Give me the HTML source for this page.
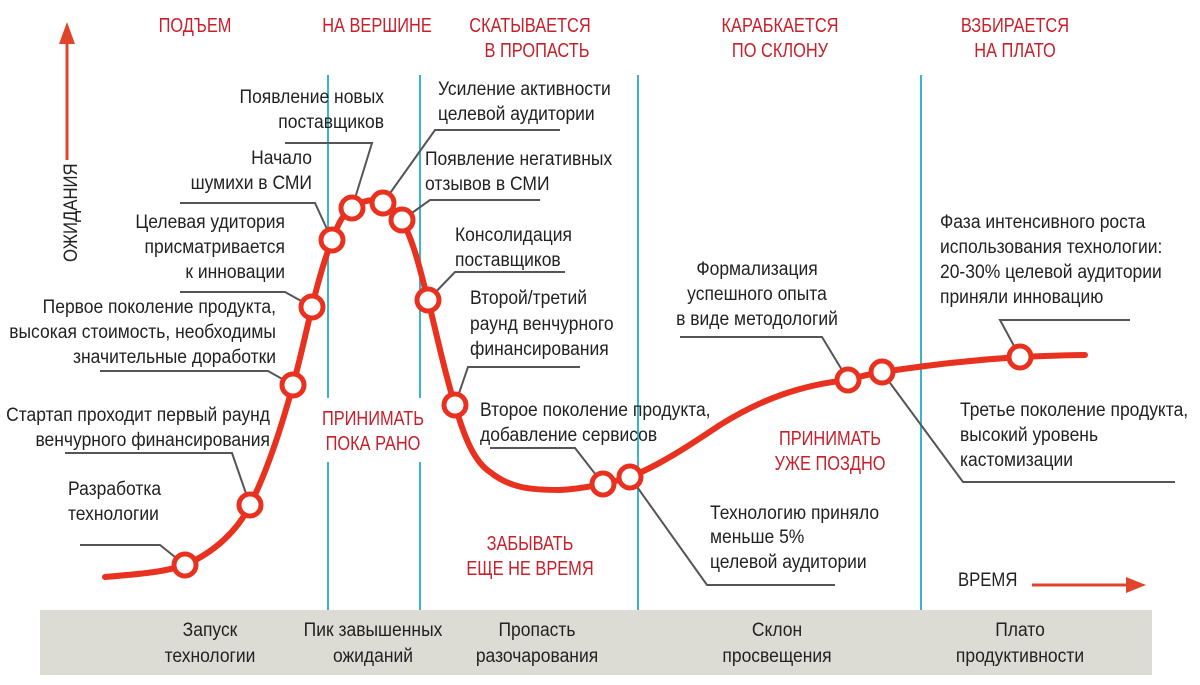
<!DOCTYPE html>
<html><head><meta charset="utf-8"><style>
html,body{margin:0;padding:0;background:#fff;}
svg{display:block;}
text{font-family:"Liberation Sans",sans-serif;font-size:19px;fill:#222;}
.r{fill:#c8202a;font-size:20px;}
.e{text-anchor:end;}
.m{text-anchor:middle;}
</style></head><body>
<svg width="1200" height="685" viewBox="0 0 1200 685" xmlns="http://www.w3.org/2000/svg">
<rect x="40" y="610" width="1112" height="65" fill="#dcdcd5"/>
<g stroke="#3ab6c8" stroke-width="2">
<line x1="328" y1="75" x2="328" y2="398"/><line x1="328" y1="462" x2="328" y2="610"/>
<line x1="420" y1="75" x2="420" y2="398"/><line x1="420" y1="462" x2="420" y2="610"/>
<line x1="638" y1="75" x2="638" y2="610"/>
<line x1="921" y1="75" x2="921" y2="610"/>
</g>
<line x1="67" y1="160" x2="67" y2="40" stroke="#e0452c" stroke-width="3"/>
<polygon points="59,44 67,22 75,44" fill="#e0452c"/>
<text transform="translate(77,262) rotate(-90) scale(.88,1)">ОЖИДАНИЯ</text>
<text transform="translate(958,586) scale(.88,1)">ВРЕМЯ</text>
<line x1="1032" y1="585" x2="1128" y2="585" stroke="#e0452c" stroke-width="3"/>
<polygon points="1126,577 1146,585 1126,593" fill="#e0452c"/>
<!-- headings -->
<text class="r m" transform="translate(195,32) scale(.82,1)">ПОДЪЕМ</text>
<text class="r m" transform="translate(377,32) scale(.82,1)">НА ВЕРШИНЕ</text>
<text class="r m" transform="translate(530,32) scale(.82,1)">СКАТЫВАЕТСЯ</text><text class="r m" transform="translate(537,57) scale(.82,1)">В ПРОПАСТЬ</text>
<text class="r m" transform="translate(780,32) scale(.82,1)">КАРАБКАЕТСЯ</text><text class="r m" transform="translate(780,57) scale(.82,1)">ПО СКЛОНУ</text>
<text class="r m" transform="translate(1015,32) scale(.82,1)">ВЗБИРАЕТСЯ</text><text class="r m" transform="translate(1015,57) scale(.82,1)">НА ПЛАТО</text>
<text class="r m" transform="translate(373,425) scale(.82,1)">ПРИНИМАТЬ</text><text class="r m" transform="translate(373,450) scale(.82,1)">ПОКА РАНО</text>
<text class="r m" transform="translate(530,550) scale(.82,1)">ЗАБЫВАТЬ</text><text class="r m" transform="translate(530,575) scale(.82,1)">ЕЩЕ НЕ ВРЕМЯ</text>
<text class="r m" transform="translate(830,445) scale(.82,1)">ПРИНИМАТЬ</text><text class="r m" transform="translate(830,470) scale(.82,1)">УЖЕ ПОЗДНО</text>
<!-- bottom -->
<text class="m" transform="translate(210,636) scale(.92,1)">Запуск</text><text class="m" transform="translate(210,662) scale(.92,1)">технологии</text>
<text class="m" transform="translate(373,636) scale(.92,1)">Пик завышенных</text><text class="m" transform="translate(373,662) scale(.92,1)">ожиданий</text>
<text class="m" transform="translate(537,636) scale(.92,1)">Пропасть</text><text class="m" transform="translate(537,662) scale(.92,1)">разочарования</text>
<text class="m" transform="translate(777,636) scale(.92,1)">Склон</text><text class="m" transform="translate(777,662) scale(.92,1)">просвещения</text>
<text class="m" transform="translate(1020,636) scale(.92,1)">Плато</text><text class="m" transform="translate(1020,662) scale(.92,1)">продуктивности</text>
<!-- leaders -->
<g stroke="#555" stroke-width="2" fill="none">
<polyline points="80,545 160,545 185,565"/>
<polyline points="65,453 232,453 250,505"/>
<polyline points="100,371 268,371 293,385"/>
<polyline points="180,292 285,292 312,307"/>
<polyline points="180,203 315,203 332,240"/>
<polyline points="285,143 372,143 352,208"/>
<polyline points="560,130 435,130 383,203"/>
<polyline points="540,200 430,200 402,220"/>
<polyline points="565,272 455,272 428,300"/>
<polyline points="580,367 468,367 455,405"/>
<polyline points="490,448 575,448 603,484"/>
<polyline points="630,477 707,585 835,585"/>
<polyline points="680,337 822,337 848,380"/>
<polyline points="1130,320 1000,320 1020,357"/>
<polyline points="882,372 963,482 1175,482"/>
</g>
<path d="M105,577 C140,574 165,572 185,565 C215,552 238,530 250,505 C268,470 282,425 293,385 C300,360 306,332 312,307 C318,282 325,258 332,240 C338,224 344,212 352,208 C362,200 375,198 383,203 C392,207 397,212 402,220 C415,245 420,270 428,300 C437,335 445,375 455,405 C465,440 475,462 490,472 C510,488 530,490 560,490 C580,489 592,486 603,484 C612,482 620,480 630,477 C660,465 690,445 720,425 C760,400 800,385 848,380 C858,377 870,374 882,372 C930,365 970,360 1020,357 C1045,356 1065,355 1085,355" fill="none" stroke="#e8321f" stroke-width="6" stroke-linecap="round"/>
<g fill="#fff" stroke="#e8321f" stroke-width="5">
<circle cx="185" cy="565" r="11"/><circle cx="250" cy="505" r="11"/><circle cx="293" cy="385" r="11"/>
<circle cx="312" cy="307" r="11"/><circle cx="332" cy="240" r="11"/><circle cx="352" cy="208" r="11"/>
<circle cx="383" cy="203" r="11"/><circle cx="402" cy="220" r="11"/><circle cx="428" cy="300" r="11"/>
<circle cx="455" cy="405" r="11"/><circle cx="603" cy="484" r="11"/><circle cx="630" cy="477" r="11"/>
<circle cx="848" cy="380" r="11"/><circle cx="882" cy="372" r="11"/><circle cx="1020" cy="357" r="11"/>
</g>
<!-- labels -->
<text transform="translate(68,495) scale(.92,1)">Разработка</text><text transform="translate(68,520) scale(.92,1)">технологии</text>
<text class="e" transform="translate(270,421) scale(.92,1)">Стартап проходит первый раунд</text><text class="e" transform="translate(270,446) scale(.92,1)">венчурного финансирования</text>
<text class="e" transform="translate(276,313) scale(.92,1)">Первое поколение продукта,</text><text class="e" transform="translate(276,338) scale(.92,1)">высокая стоимость, необходимы</text><text class="e" transform="translate(276,363) scale(.92,1)">значительные доработки</text>
<text class="e" transform="translate(285,228) scale(.92,1)">Целевая удитория</text><text class="e" transform="translate(285,253) scale(.92,1)">присматривается</text><text class="e" transform="translate(285,278) scale(.92,1)">к инновации</text>
<text class="e" transform="translate(312,164) scale(.92,1)">Начало</text><text class="e" transform="translate(312,189) scale(.92,1)">шумихи в СМИ</text>
<text class="e" transform="translate(384,103) scale(.92,1)">Появление новых</text><text class="e" transform="translate(384,128) scale(.92,1)">поставщиков</text>
<text transform="translate(438,95) scale(.92,1)">Усиление активности</text><text transform="translate(438,120) scale(.92,1)">целевой аудитории</text>
<text transform="translate(425,165) scale(.92,1)">Появление негативных</text><text transform="translate(425,190) scale(.92,1)">отзывов в СМИ</text>
<text transform="translate(455,241) scale(.92,1)">Консолидация</text><text transform="translate(455,266) scale(.92,1)">поставщиков</text>
<text transform="translate(470,304) scale(.92,1)">Второй/третий</text><text transform="translate(470,330) scale(.92,1)">раунд венчурного</text><text transform="translate(470,355) scale(.92,1)">финансирования</text>
<text transform="translate(480,416) scale(.92,1)">Второе поколение продукта,</text><text transform="translate(480,441) scale(.92,1)">добавление сервисов</text>
<text transform="translate(710,519) scale(.92,1)">Технологию приняло</text><text transform="translate(710,543) scale(.92,1)">меньше 5%</text><text transform="translate(710,568) scale(.92,1)">целевой аудитории</text>
<text class="m" transform="translate(757,275) scale(.92,1)">Формализация</text><text class="m" transform="translate(757,300) scale(.92,1)">успешного опыта</text><text class="m" transform="translate(757,325) scale(.92,1)">в виде методологий</text>
<text transform="translate(940,228) scale(.92,1)">Фаза интенсивного роста</text><text transform="translate(940,253) scale(.92,1)">использования  технологии:</text><text transform="translate(940,278) scale(.92,1)">20-30% целевой аудитории</text><text transform="translate(940,303) scale(.92,1)">приняли инновацию</text>
<text transform="translate(960,416) scale(.92,1)">Третье поколение продукта,</text><text transform="translate(960,441) scale(.92,1)">высокий уровень</text><text transform="translate(960,466) scale(.92,1)">кастомизации</text>
</svg>
</body></html>
